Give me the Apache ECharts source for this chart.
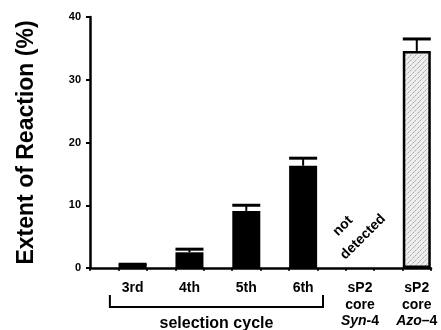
<!DOCTYPE html>
<html>
<head>
<meta charset="utf-8">
<script src="https://cdn.jsdelivr.net/npm/echarts@6/dist/echarts.min.js"></script>
<style>
  html, body { margin: 0; padding: 0; background: #fff; }
  #chart { width: 441px; height: 330px; }
</style>
</head>
<body>
<div id="chart"></div>
<script>
// data
var categories = ['3rd', '4th', '5th', '6th', 'Syn-4', 'Azo-4'];
var slotPos = [1.5, 3.5, 5.5, 7.5, 9.5, 11.5];   // bar centres on the x scale
var extent = [0.6, 2.5, 9.1, 16.3, 0, 34.6];
var extentErr = [0.6, 3.0, 10.0, 17.5, 0, 36.5];
var yTicks = [0, 10, 20, 30, 40];
var bracketRange = [0.7, 8.2];

var font = 'Liberation Sans, Arial, Helvetica, sans-serif';

// stipple for the azo bar
var pat = document.createElement('canvas');
pat.width = 5; pat.height = 5;
var pctx = pat.getContext('2d');
pctx.fillStyle = '#ededed';
pctx.fillRect(0, 0, 5, 5);
pctx.fillStyle = '#a8a8a8';
pctx.fillRect(0, 0, 1, 1);
pctx.fillRect(3, 2, 1, 1);
pctx.fillStyle = '#c4c4c4';
pctx.fillRect(1, 4, 1, 1);
pctx.fillRect(4, 1, 1, 1);
pctx.fillRect(2, 3, 1, 1);

var barData = [];
var errData = [];
for (var i = 0; i < categories.length; i++) {
    if (extent[i] <= 0) continue;
    var item = { value: [slotPos[i], extent[i]] };
    if (categories[i] === 'Azo-4') {
        item.itemStyle = { color: { image: pat, repeat: 'repeat' }, borderColor: '#000', borderWidth: 2.5 };
    }
    barData.push(item);
    errData.push([slotPos[i], extent[i], extentErr[i]]);
}

var labelMap = {};
labelMap[slotPos[0]] = '{b|3rd}';
labelMap[slotPos[1]] = '{b|4th}';
labelMap[slotPos[2]] = '{b|5th}';
labelMap[slotPos[3]] = '{b|6th}';
labelMap[slotPos[4]] = '{b|sP2}\n{b|core}\n{i|Syn}{b|-4}';
labelMap[slotPos[5]] = '{b|sP2}\n{b|core}\n{i|Azo}{b|–4}';

var chart = echarts.init(document.getElementById('chart'));
var option = {
    animation: false,
    grid: { left: 90, right: 10, top: 17, bottom: 62 },
    xAxis: {
        type: 'value',
        min: 0,
        max: 12,
        interval: 1,
        splitLine: { show: false },
        axisLine: { lineStyle: { color: '#000', width: 2.5 } },
        axisTick: { length: 3, lineStyle: { color: '#000', width: 1.5 } },
        axisLabel: {
            customValues: slotPos,
            margin: 12,
            verticalAlign: 'top',
            formatter: function (v) { return labelMap[v] || ''; },
            rich: {
                b: { fontFamily: font, fontWeight: 'bold', fontSize: 14, color: '#000', lineHeight: 16.5 },
                i: { fontFamily: font, fontWeight: 'bold', fontStyle: 'italic', fontSize: 14, color: '#000', lineHeight: 16.5 }
            }
        }
    },
    yAxis: {
        type: 'value',
        min: 0,
        max: 40,
        interval: 10,
        name: 'Extent of Reaction (%)',
        nameLocation: 'middle',
        nameGap: 52,
        nameTextStyle: { fontFamily: font, fontWeight: 'bold', fontSize: 23, color: '#000' },
        splitLine: { show: false },
        axisLine: { show: true, lineStyle: { color: '#000', width: 2.5 } },
        axisTick: { show: true, length: 4, lineStyle: { color: '#000', width: 2 } },
        axisLabel: {
            margin: 9,
            fontFamily: font, fontWeight: 'bold', fontSize: 11, color: '#000',
            customValues: yTicks
        }
    },
    series: [
        {
            type: 'bar',
            barWidth: 28,
            itemStyle: { color: '#000' },
            data: barData,
            z: 2
        },
        {
            type: 'custom',
            z: 3,
            renderItem: function (params, api) {
                var x = api.value(0);
                var base = api.coord([x, api.value(1)]);
                var top = api.coord([x, api.value(2)]);
                var halfW = 14;
                return {
                    type: 'group',
                    children: [
                        { type: 'line', shape: { x1: base[0], y1: base[1], x2: top[0], y2: top[1] },
                          style: { stroke: '#000', lineWidth: 2 } },
                        { type: 'line', shape: { x1: top[0] - halfW, y1: top[1], x2: top[0] + halfW, y2: top[1] },
                          style: { stroke: '#000', lineWidth: 3 } }
                    ]
                };
            },
            data: errData
        }
    ]
};
chart.setOption(option);

// bracket under the selection cycles and the annotations
var bl = chart.convertToPixel({ xAxisIndex: 0 }, bracketRange[0]);
var br = chart.convertToPixel({ xAxisIndex: 0 }, bracketRange[1]);
var synX = chart.convertToPixel({ xAxisIndex: 0 }, slotPos[4]);
chart.setOption({
    graphic: [
        {
            type: 'polyline',
            shape: { points: [[bl, 295], [bl, 307], [br, 307], [br, 295]] },
            style: { stroke: '#000', lineWidth: 2, fill: null }
        },
        {
            type: 'text',
            x: (bl + br) / 2, y: 324,
            style: { text: 'selection cycle', fontFamily: font, fontWeight: 'bold', fontSize: 16,
                     fill: '#000', align: 'center', verticalAlign: 'middle' }
        },
        {
            type: 'text',
            x: synX - 17, y: 226,
            rotation: Math.PI / 4,
            style: { text: 'not', fontFamily: font, fontWeight: 'bold', fontSize: 14,
                     fill: '#000', align: 'center', verticalAlign: 'middle' }
        },
        {
            type: 'text',
            x: synX + 3, y: 237,
            rotation: Math.PI / 4,
            style: { text: 'detected', fontFamily: font, fontWeight: 'bold', fontSize: 14,
                     fill: '#000', align: 'center', verticalAlign: 'middle' }
        }
    ]
});

window.addEventListener('resize', function () {
    chart.resize();
});
</script>
</body>
</html>
